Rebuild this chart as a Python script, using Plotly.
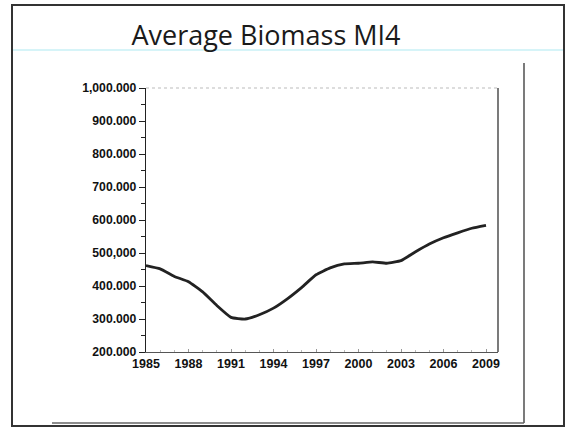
import plotly.graph_objects as go

years = list(range(1985, 2010))
biomass = [462000, 452000, 429000, 413000, 382000, 341000, 305000, 300000, 313000, 333000,
           362000, 396000, 434000, 455000, 467000, 469000, 473000, 469000, 477000, 503000,
           527000, 546000, 561000, 575000, 584000]
x_ticks = [1985, 1988, 1991, 1994, 1997, 2000, 2003, 2006, 2009]
y_ticks = [200000, 300000, 400000, 500000, 600000, 700000, 800000, 900000, 1000000]
y_labels = ["200.000", "300.000", "400.000", "500,000", "600.000", "700.000", "800.000", "900.000", "1,000.000"]
title = "Average Biomass MI4"

W, H = 565, 427
L, R, T, B = 146, 67, 88, 75
PW, PH = W - L - R, H - T - B

fig = go.Figure()
fig.add_trace(go.Scatter(x=years, y=biomass, mode="lines",
                         line=dict(color="#222222", width=2.8, shape="spline", smoothing=0.4),
                         hoverinfo="x+y", showlegend=False))

fig.update_layout(
    width=W, height=H,
    margin=dict(l=L, r=R, t=T, b=B, autoexpand=False),
    paper_bgcolor="white", plot_bgcolor="white",
    showlegend=False,
    font=dict(family="Liberation Sans, Arial, sans-serif", color="#111111"),
    xaxis=dict(range=[1985, 1985 + PW / (340 / 24)], tickvals=x_ticks, ticktext=[str(v) for v in x_ticks],
               showgrid=False, zeroline=False, showline=True, linecolor="#555555", linewidth=1,
               ticks="inside", ticklen=3, tickcolor="#999999", automargin=False,
               minor=dict(dtick=1, ticks="inside", ticklen=2, tickcolor="#bbbbbb"),
               tickfont=dict(size=12.5, family="Liberation Sans", weight="bold")),
    yaxis=dict(range=[200000, 1000000], tickvals=y_ticks, ticktext=y_labels,
               showgrid=False, zeroline=False, showline=True, linecolor="#222222", linewidth=1.3,
               ticks="outside", ticklen=6, tickcolor="#222222", automargin=False,
               minor=dict(dtick=50000, tick0=0, ticks="outside", ticklen=4, tickcolor="#222222"),
               tickfont=dict(size=12.2, family="Liberation Sans", weight="bold")),
    title=dict(text=title, xref="container", yref="container", x=266 / W, xanchor="center",
               y=1 - 36 / H, yanchor="middle", automargin=False,
               font=dict(size=27, family="Open Sans, Lato, sans-serif", color="#1a1a1a")),
)


def px(x):
    return (x - L) / PW


def py(y):
    return (H - B - y) / PH


shapes = []
# plot top dotted line and right border
shapes.append(dict(type="line", xref="x domain", yref="y domain", x0=0, x1=1, y0=1, y1=1,
                   line=dict(color="#bbbbbb", width=1, dash="dot")))
shapes.append(dict(type="line", xref="x domain", yref="y domain", x0=1, x1=1, y0=0, y1=1,
                   line=dict(color="#222222", width=1.2)))
# outer frame
shapes.append(dict(type="rect", xref="paper", yref="paper", x0=px(12), x1=px(564), y0=py(426), y1=py(5),
                   line=dict(color="#333333", width=2)))
# cyan guide line
shapes.append(dict(type="line", xref="paper", yref="paper", x0=px(13), x1=px(563), y0=py(50), y1=py(50),
                   line=dict(color="#d6f4f8", width=2)))
# inner chart frame (right and bottom)
shapes.append(dict(type="line", xref="paper", yref="paper", x0=px(524), x1=px(524), y0=py(63), y1=py(423),
                   line=dict(color="#333333", width=1.3)))
shapes.append(dict(type="line", xref="paper", yref="paper", x0=px(52), x1=px(524), y0=py(423), y1=py(423),
                   line=dict(color="#666666", width=1.3)))
fig.update_layout(shapes=shapes)

fig.write_html("out.html", config={"displayModeBar": False},
               post_script="document.body.style.margin='0';document.body.style.overflow='hidden';")
